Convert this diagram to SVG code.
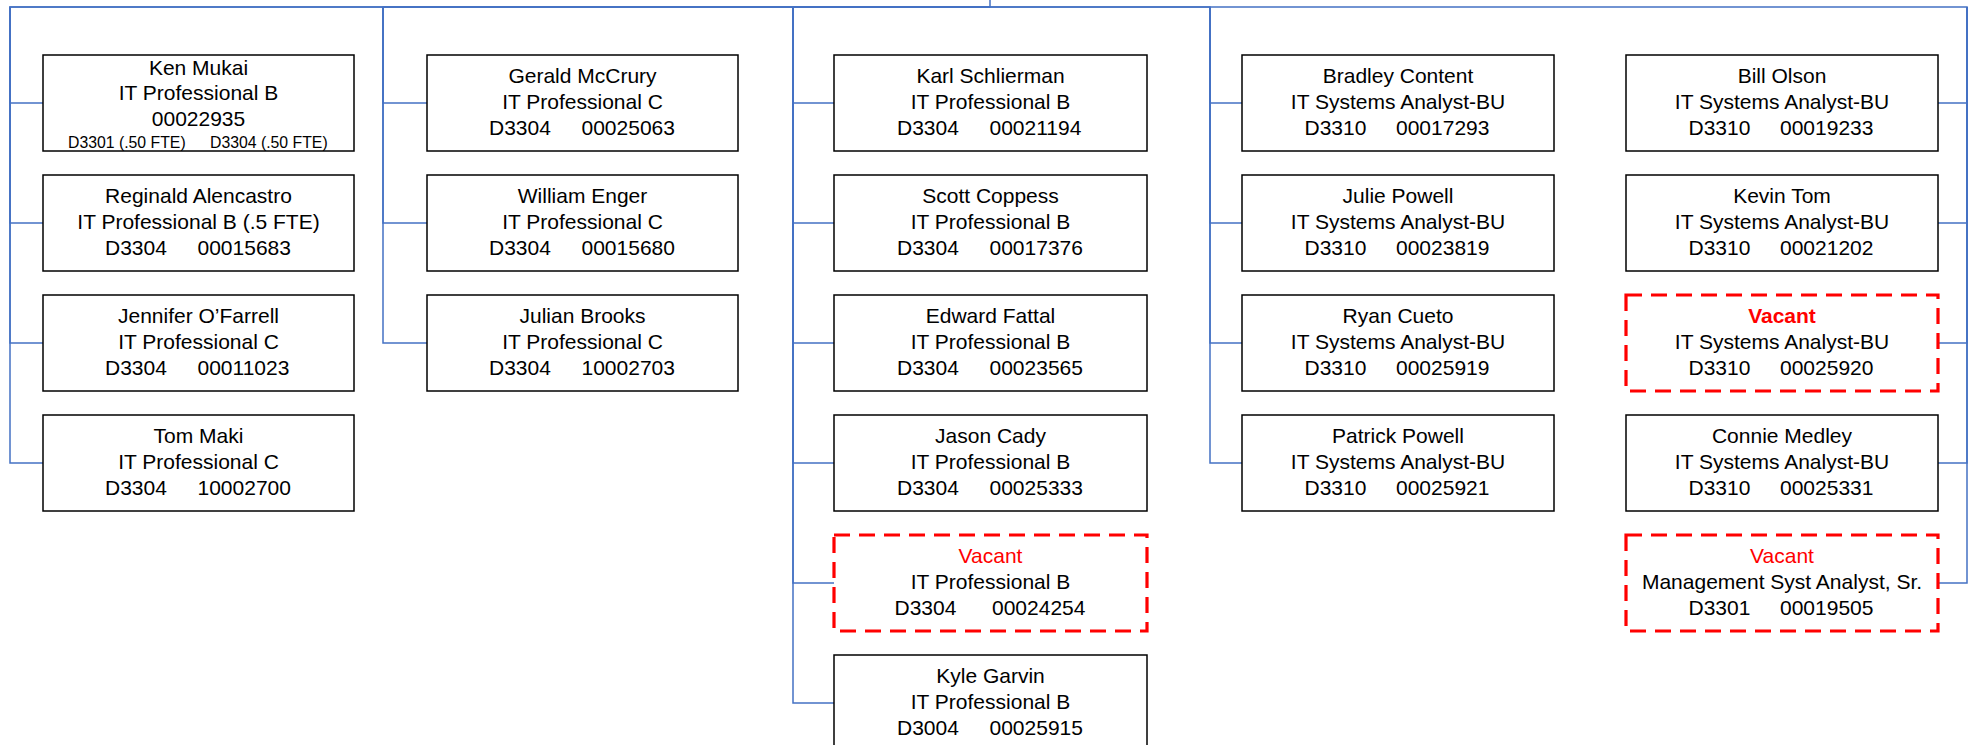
<svg xmlns="http://www.w3.org/2000/svg" width="1972" height="745" viewBox="0 0 1972 745">
<style>
.bg{fill:#fff}
.box{fill:#fff;stroke:#000;stroke-width:1.5}
.vac{fill:#fff;stroke:#ff0000;stroke-width:3.2;stroke-dasharray:16 9}
.conn{fill:none;stroke:#4472C4;stroke-width:1.5}
text{font-family:"Liberation Sans",Arial,sans-serif;font-size:21px;fill:#000}
.c{text-anchor:middle}
.s{font-size:15.8px}
.red{fill:#ff0000}
.b{font-weight:bold}
</style>
<rect class="bg" x="0" y="0" width="1972" height="745"/>
<g id="connectors">
<path class="conn" d="M990 0V7H10V103H43"/>
<path class="conn" d="M990 7H10V223H43"/>
<path class="conn" d="M10 7V343H43"/>
<path class="conn" d="M10 7V463H43"/>
<path class="conn" d="M990 7H383V103H427"/>
<path class="conn" d="M383 7V223H427"/>
<path class="conn" d="M383 7V343H427"/>
<path class="conn" d="M990 7H793V103H834"/>
<path class="conn" d="M793 7V223H834"/>
<path class="conn" d="M793 7V343H834"/>
<path class="conn" d="M793 7V463H834"/>
<path class="conn" d="M793 7V583H834"/>
<path class="conn" d="M793 7V703H834"/>
<path class="conn" d="M990 7H1210V103H1242"/>
<path class="conn" d="M1210 7V223H1242"/>
<path class="conn" d="M1210 7V343H1242"/>
<path class="conn" d="M1210 7V463H1242"/>
<path class="conn" d="M990 7H1967V103H1938"/>
<path class="conn" d="M1967 7V223H1938"/>
<path class="conn" d="M1967 7V343H1938"/>
<path class="conn" d="M1967 7V463H1938"/>
<path class="conn" d="M1967 7V583H1938"/>
</g>
<g id="ken-mukai">
<rect class="box" x="43" y="55" width="311" height="96"/>
<text class="c" x="198.5" y="75">Ken Mukai</text>
<text class="c" x="198.5" y="100">IT Professional B</text>
<text class="c" x="198.5" y="126">00022935</text>
<text class="s" y="148"><tspan x="68">D3301 (.50 FTE)</tspan><tspan x="210">D3304 (.50 FTE)</tspan></text>
</g>
<g id="reginald-alencastro">
<rect class="box" x="43" y="175" width="311" height="96"/>
<text class="c" x="198.5" y="203">Reginald Alencastro</text>
<text class="c" x="198.5" y="229">IT Professional B (.5 FTE)</text>
<text y="255"><tspan x="105">D3304</tspan><tspan x="197.5">00015683</tspan></text>
</g>
<g id="jennifer-ofarrell">
<rect class="box" x="43" y="295" width="311" height="96"/>
<text class="c" x="198.5" y="323">Jennifer O’Farrell</text>
<text class="c" x="198.5" y="349">IT Professional C</text>
<text y="375"><tspan x="105">D3304</tspan><tspan x="197.5">00011023</tspan></text>
</g>
<g id="tom-maki">
<rect class="box" x="43" y="415" width="311" height="96"/>
<text class="c" x="198.5" y="443">Tom Maki</text>
<text class="c" x="198.5" y="469">IT Professional C</text>
<text y="495"><tspan x="105">D3304</tspan><tspan x="197.5">10002700</tspan></text>
</g>
<g id="gerald-mccrury">
<rect class="box" x="427" y="55" width="311" height="96"/>
<text class="c" x="582.5" y="83">Gerald McCrury</text>
<text class="c" x="582.5" y="109">IT Professional C</text>
<text y="135"><tspan x="489">D3304</tspan><tspan x="581.5">00025063</tspan></text>
</g>
<g id="william-enger">
<rect class="box" x="427" y="175" width="311" height="96"/>
<text class="c" x="582.5" y="203">William Enger</text>
<text class="c" x="582.5" y="229">IT Professional C</text>
<text y="255"><tspan x="489">D3304</tspan><tspan x="581.5">00015680</tspan></text>
</g>
<g id="julian-brooks">
<rect class="box" x="427" y="295" width="311" height="96"/>
<text class="c" x="582.5" y="323">Julian Brooks</text>
<text class="c" x="582.5" y="349">IT Professional C</text>
<text y="375"><tspan x="489">D3304</tspan><tspan x="581.5">10002703</tspan></text>
</g>
<g id="karl-schlierman">
<rect class="box" x="834" y="55" width="313" height="96"/>
<text class="c" x="990.5" y="83">Karl Schlierman</text>
<text class="c" x="990.5" y="109">IT Professional B</text>
<text y="135"><tspan x="897">D3304</tspan><tspan x="989.5">00021194</tspan></text>
</g>
<g id="scott-coppess">
<rect class="box" x="834" y="175" width="313" height="96"/>
<text class="c" x="990.5" y="203">Scott Coppess</text>
<text class="c" x="990.5" y="229">IT Professional B</text>
<text y="255"><tspan x="897">D3304</tspan><tspan x="989.5">00017376</tspan></text>
</g>
<g id="edward-fattal">
<rect class="box" x="834" y="295" width="313" height="96"/>
<text class="c" x="990.5" y="323">Edward Fattal</text>
<text class="c" x="990.5" y="349">IT Professional B</text>
<text y="375"><tspan x="897">D3304</tspan><tspan x="989.5">00023565</tspan></text>
</g>
<g id="jason-cady">
<rect class="box" x="834" y="415" width="313" height="96"/>
<text class="c" x="990.5" y="443">Jason Cady</text>
<text class="c" x="990.5" y="469">IT Professional B</text>
<text y="495"><tspan x="897">D3304</tspan><tspan x="989.5">00025333</tspan></text>
</g>
<g id="vacant-00024254">
<rect class="vac" x="834" y="535" width="313" height="96"/>
<text class="c red" x="990.5" y="563">Vacant</text>
<text class="c" x="990.5" y="589">IT Professional B</text>
<text y="615"><tspan x="894.5">D3304</tspan><tspan x="992">00024254</tspan></text>
</g>
<g id="kyle-garvin">
<rect class="box" x="834" y="655" width="313" height="96"/>
<text class="c" x="990.5" y="683">Kyle Garvin</text>
<text class="c" x="990.5" y="709">IT Professional B</text>
<text y="735"><tspan x="897">D3004</tspan><tspan x="989.5">00025915</tspan></text>
</g>
<g id="bradley-content">
<rect class="box" x="1242" y="55" width="312" height="96"/>
<text class="c" x="1398" y="83">Bradley Content</text>
<text class="c" x="1398" y="109">IT Systems Analyst-BU</text>
<text y="135"><tspan x="1304.5">D3310</tspan><tspan x="1396">00017293</tspan></text>
</g>
<g id="julie-powell">
<rect class="box" x="1242" y="175" width="312" height="96"/>
<text class="c" x="1398" y="203">Julie Powell</text>
<text class="c" x="1398" y="229">IT Systems Analyst-BU</text>
<text y="255"><tspan x="1304.5">D3310</tspan><tspan x="1396">00023819</tspan></text>
</g>
<g id="ryan-cueto">
<rect class="box" x="1242" y="295" width="312" height="96"/>
<text class="c" x="1398" y="323">Ryan Cueto</text>
<text class="c" x="1398" y="349">IT Systems Analyst-BU</text>
<text y="375"><tspan x="1304.5">D3310</tspan><tspan x="1396">00025919</tspan></text>
</g>
<g id="patrick-powell">
<rect class="box" x="1242" y="415" width="312" height="96"/>
<text class="c" x="1398" y="443">Patrick Powell</text>
<text class="c" x="1398" y="469">IT Systems Analyst-BU</text>
<text y="495"><tspan x="1304.5">D3310</tspan><tspan x="1396">00025921</tspan></text>
</g>
<g id="bill-olson">
<rect class="box" x="1626" y="55" width="312" height="96"/>
<text class="c" x="1782" y="83">Bill Olson</text>
<text class="c" x="1782" y="109">IT Systems Analyst-BU</text>
<text y="135"><tspan x="1688.5">D3310</tspan><tspan x="1780">00019233</tspan></text>
</g>
<g id="kevin-tom">
<rect class="box" x="1626" y="175" width="312" height="96"/>
<text class="c" x="1782" y="203">Kevin Tom</text>
<text class="c" x="1782" y="229">IT Systems Analyst-BU</text>
<text y="255"><tspan x="1688.5">D3310</tspan><tspan x="1780">00021202</tspan></text>
</g>
<g id="vacant-00025920">
<rect class="vac" x="1626" y="295" width="312" height="96"/>
<text class="c red b" x="1782" y="323">Vacant</text>
<text class="c" x="1782" y="349">IT Systems Analyst-BU</text>
<text y="375"><tspan x="1688.5">D3310</tspan><tspan x="1780">00025920</tspan></text>
</g>
<g id="connie-medley">
<rect class="box" x="1626" y="415" width="312" height="96"/>
<text class="c" x="1782" y="443">Connie Medley</text>
<text class="c" x="1782" y="469">IT Systems Analyst-BU</text>
<text y="495"><tspan x="1688.5">D3310</tspan><tspan x="1780">00025331</tspan></text>
</g>
<g id="vacant-00019505">
<rect class="vac" x="1626" y="535" width="312" height="96"/>
<text class="c red" x="1782" y="563">Vacant</text>
<text class="c" x="1782" y="589">Management Syst Analyst, Sr.</text>
<text y="615"><tspan x="1688.5">D3301</tspan><tspan x="1780">00019505</tspan></text>
</g>
</svg>
